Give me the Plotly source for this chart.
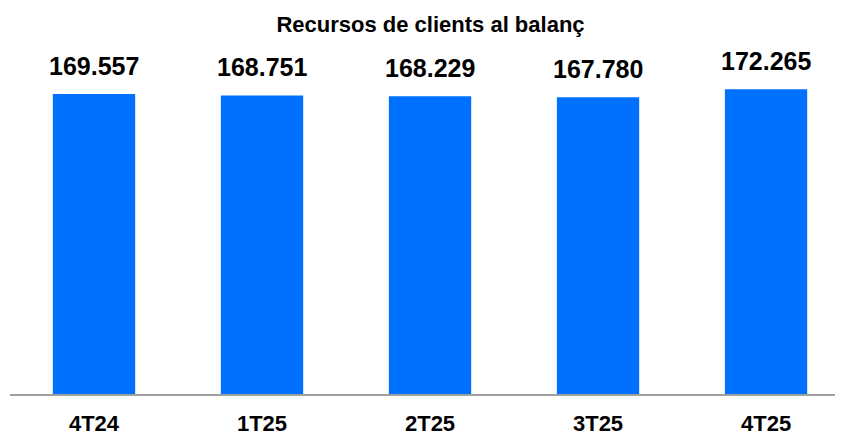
import plotly.graph_objects as go

categories = ["4T24", "1T25", "2T25", "3T25", "4T25"]
values = [169557, 168751, 168229, 167780, 172265]
title_text = "Recursos de clients al balanç"

FONT = "Liberation Sans, Arial, sans-serif"
BAR_COLOR = "#0070FF"

def fmt(v):
    return f"{v:,}".replace(",", ".")

fig = go.Figure()
fig.add_trace(go.Bar(
    x=categories,
    y=values,
    marker=dict(color=BAR_COLOR, line=dict(width=0)),
    width=0.49,
    hoverinfo="skip",
))

for c, v in zip(categories, values):
    fig.add_annotation(
        x=c, y=v, text=f"<b>{fmt(v)}</b>", showarrow=False,
        yanchor="middle", yshift=28,
        font=dict(family=FONT, size=25, color="#000000"),
    )

fig.update_layout(
    width=835, height=427,
    margin=dict(l=2, r=0, t=52, b=41),
    paper_bgcolor="white", plot_bgcolor="white",
    showlegend=False,
    title=dict(
        text=f"<b>{title_text}</b>",
        x=0.506, xanchor="center", y=0.962, yanchor="middle",
        font=dict(family=FONT, size=22, color="#000000"),
    ),
    bargap=0.51,
)
fig.update_xaxes(
    type="category",
    range=[-0.5, 4.458],
    showline=True, linecolor="#A0A0A0", linewidth=2,
    ticks="", showgrid=False, zeroline=False,
    tickfont=dict(family=FONT, size=22, color="#000000"),
    ticklabelstandoff=9,
    tickprefix="<b>", ticksuffix="</b>",
)
fig.update_yaxes(
    range=[0, 188773],
    visible=False, showgrid=False, zeroline=False,
)

fig.write_html("out.html")
